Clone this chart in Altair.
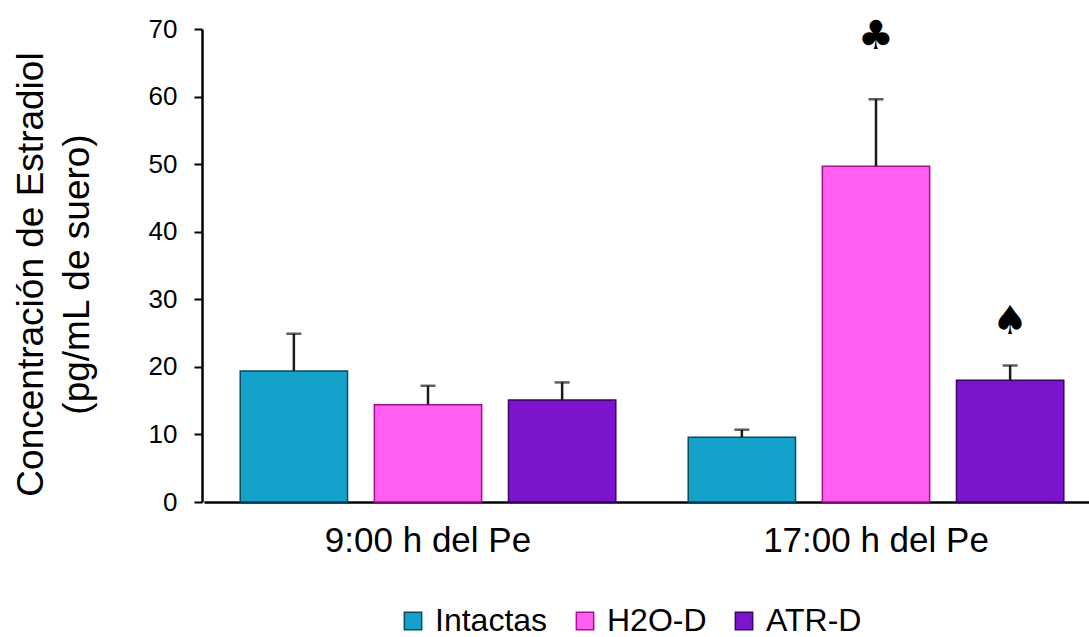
import altair as alt
import pandas as pd

groups = ["9:00 h del Pe", "17:00 h del Pe"]
series = ["Intactas", "H2O-D", "ATR-D"]
colors = ["#14a2cb", "#ff5ef0", "#7c14cc"]
strokes = ["#0a4a5e", "#a0108f", "#3a0560"]
means_900 = [19.4, 14.4, 15.1]
err_900 = [5.5, 2.8, 2.6]
means_1700 = [9.6, 49.7, 18.0]
err_1700 = [1.1, 9.9, 2.2]
mark_symbols = ["♣", "♠"]
mark_series = ["H2O-D", "ATR-D"]
mark_values = [68.8, 26.6]

rows = []
for g, ms, es in [(groups[0], means_900, err_900), (groups[1], means_1700, err_1700)]:
    for s, m, e in zip(series, ms, es):
        rows.append({"grupo": g, "serie": s, "media": m, "top": m + e})
df = pd.DataFrame(rows)
sym_df = pd.DataFrame({"grupo": [groups[1]] * 2, "serie": mark_series,
                       "y": mark_values, "sym": mark_symbols})

xenc = alt.X("grupo:N", sort=groups,
             scale=alt.Scale(range=[2, 898], paddingInner=0, paddingOuter=0),
             axis=alt.Axis(title=None, labelAngle=0, ticks=False, labelFontSize=35,
                           labelFont="Liberation Sans", labelColor="#000",
                           labelLimit=0, labelPadding=21,
                           domainColor="#000", domainWidth=2.5))
xoff = alt.XOffset("serie:N", sort=series,
                   scale=alt.Scale(paddingInner=0.2, paddingOuter=0.27))
yscale = alt.Scale(domain=[0, 70], nice=False)

bars = alt.Chart(df).mark_bar(strokeWidth=1.5).encode(
    x=xenc, xOffset=xoff,
    y=alt.Y("media:Q", scale=yscale,
            axis=alt.Axis(values=list(range(0, 71, 10)), grid=False,
                          tickSize=8, tickWidth=2, tickColor="#000",
                          domainColor="#000", domainWidth=2.5,
                          labelFontSize=26, labelFont="Liberation Sans",
                          labelColor="#000", labelPadding=17,
                          title=["Concentración de Estradiol", "(pg/mL de suero)"],
                          titleFont="Liberation Sans", titleFontSize=37,
                          titleFontWeight="normal", titleColor="#000",
                          titleLineHeight=46, titleAngle=-90,
                          titleX=-189, titleY=245, titleAlign="center",
                          titleBaseline="top")),
    color=alt.Color("serie:N", sort=series,
                    scale=alt.Scale(domain=series, range=colors),
                    legend=alt.Legend(title=None, orient="none", direction="horizontal",
                                      legendX=195, legendY=576,
                                      labelFontSize=32, labelFont="Liberation Sans",
                                      labelColor="#000", symbolType="square",
                                      symbolSize=300, symbolStrokeWidth=1.5,
                                      symbolStrokeColor="#222", labelOffset=6,
                                      columnPadding=21)),
    stroke=alt.Stroke("serie:N", sort=series,
                      scale=alt.Scale(domain=series, range=strokes), legend=None),
)

err = alt.Chart(df).mark_rule(color="#1a1a1a", strokeWidth=2.5).encode(
    x=xenc, xOffset=xoff, y=alt.Y("media:Q", scale=yscale), y2="top:Q")
caps = alt.Chart(df).mark_tick(color="#1a1a1a", thickness=2.5, size=15).encode(
    x=xenc, xOffset=xoff, y=alt.Y("top:Q", scale=yscale))
syms = alt.Chart(sym_df).mark_text(font="DejaVu Sans", fontSize=40,
                                   baseline="middle", color="#000").encode(
    x=xenc, xOffset=xoff, y=alt.Y("y:Q", scale=yscale), text="sym:N")

chart = alt.layer(bars, err, caps, syms).properties(
    width=887, height=473,
    autosize=alt.AutoSizeParams(type="none"),
    padding={"left": 202, "top": 29, "right": 0, "bottom": 135},
    background="white",
).configure_view(stroke=None)

chart.save("out.html", embed_options={"renderer": "svg", "actions": False})
